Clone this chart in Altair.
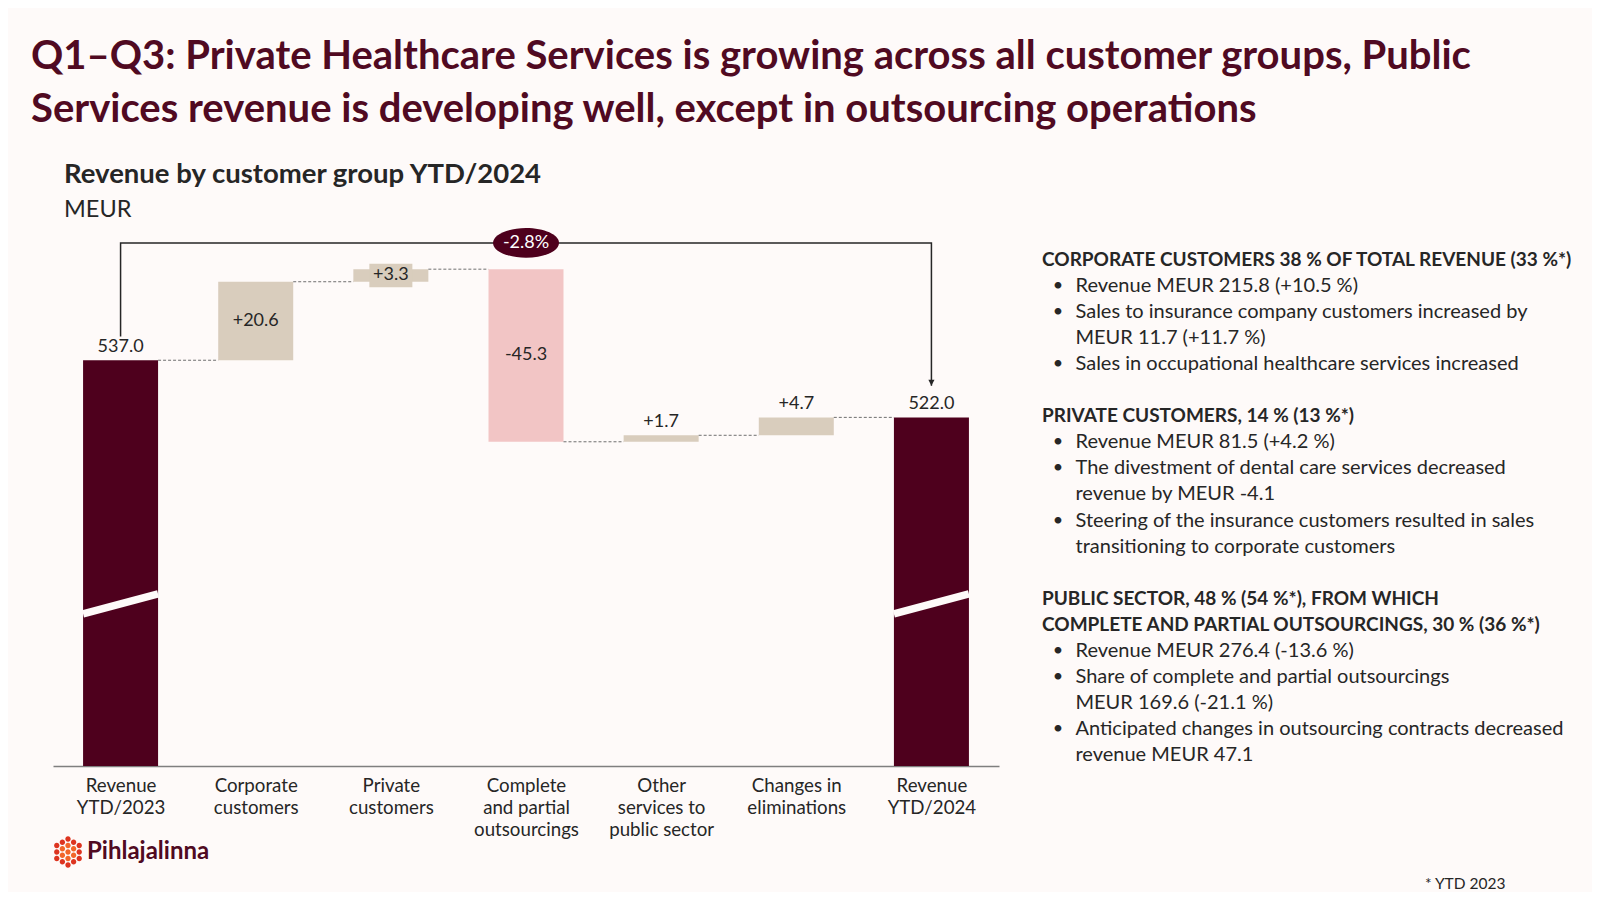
import altair as alt
import pandas as pd
import math

# ---------------- data ----------------
categories = ["Revenue|YTD/2023", "Corporate|customers", "Private|customers",
              "Complete|and partial|outsourcings", "Other|services to|public sector",
              "Changes in|eliminations", "Revenue|YTD/2024"]
values = [537.0, 20.6, 3.3, -45.3, 1.7, 4.7, 522.0]
kinds = ["total", "delta", "delta", "delta", "delta", "delta", "total"]
total_change = "-2.8%"

title_lines = ["Q1\u2013Q3: Private Healthcare Services is growing across all customer groups, Public",
               "Services revenue is developing well, except in outsourcing operations"]
subtitle = "Revenue by customer group YTD/2024"
unit_label = "MEUR"

sec1_head = ["CORPORATE CUSTOMERS 38 % OF TOTAL REVENUE (33 %*)"]
sec1_bullets = [["Revenue MEUR 215.8 (+10.5 %)"],
                ["Sales to insurance company customers increased by", "MEUR 11.7 (+11.7 %)"],
                ["Sales in occupational healthcare services increased"]]
sec2_head = ["PRIVATE CUSTOMERS, 14 % (13 %*)"]
sec2_bullets = [["Revenue MEUR 81.5 (+4.2 %)"],
                ["The divestment of dental care services decreased", "revenue by MEUR -4.1"],
                ["Steering of the insurance customers resulted in sales", "transitioning to corporate customers"]]
sec3_head = ["PUBLIC SECTOR, 48 % (54 %*), FROM WHICH",
             "COMPLETE AND PARTIAL OUTSOURCINGS, 30 % (36 %*)"]
sec3_bullets = [["Revenue MEUR 276.4 (-13.6 %)"],
                ["Share of complete and partial outsourcings", "MEUR 169.6 (-21.1 %)"],
                ["Anticipated changes in outsourcing contracts decreased", "revenue MEUR 47.1"]]
footnote = "* YTD 2023"
logo_text = "Pihlajalinna"

# ---------------- style / layout ----------------
FONT = "Lato"
BG = "#FEFAF9"
MAROON = "#4E001D"
TITLE_C = "#500A22"
BEIGE = "#D9CDBD"
PINK = "#F2C5C5"
TXT = "#262626"
GRID_GRAY = "#7F7F7F"

PLOT_W, PLOT_H = 946, 570
PAD_L, PAD_T = 45, 188
CANVAS_W, CANVAS_H = 1584, 884
PX_PER_UNIT = 3.81
Y_MIN = 430.5                       # truncated (broken) axis base
Y_MAX = Y_MIN + PLOT_H / PX_PER_UNIT
HW = 0.2775                         # half bar width in category units
OX, OY = 8 + PAD_L, 8 + PAD_T       # plot origin in page pixels


def px(x):
    return x - OX


def py(y):
    return y - OY


# ---------------- derived waterfall table ----------------
rows = []
run = 0.0
for i, (c, v, k) in enumerate(zip(categories, values, kinds)):
    if k == "total":
        start, end = Y_MIN, v
        run = v
        lab = f"{v:.1f}"
        kind = "total"
    else:
        start, end = run, run + v
        run = run + v
        lab = f"{v:+.1f}"
        kind = "up" if v >= 0 else "down"
    rows.append(dict(idx=i, cat=c, start=start, end=end, value=v, kind=kind, label=lab,
                     x0=i - HW, x1=i + HW, top=max(start, end), mid=(start + end) / 2))
df = pd.DataFrame(rows)

bracket_level = df.loc[df.kind != "total", "top"].max() + 6.9
LABEL_ROOM = 8


def mode(r):
    if r.kind == "total":
        return "above"
    if abs(r.value) >= 10:
        return "inside"
    if r.top + LABEL_ROOM > bracket_level:
        return "boxed"
    return "above"


df["mode"] = df.apply(mode, axis=1)
df["ly"] = df.apply(lambda r: r.top if r["mode"] == "above" else r.mid, axis=1)

conn = pd.DataFrame([dict(x0=i + HW, x1=i + 1 - HW, y=df.end[i]) for i in range(len(df) - 1)])
brk = df[df.kind == "total"][["x0", "x1"]].copy()
brk["y0"] = Y_MIN + 39.9
brk["y1"] = Y_MIN + 45.2

first, last = df.iloc[0], df.iloc[-1]
bracket = pd.DataFrame([
    dict(o=0, x=first.idx, y=first.end + 6.2),
    dict(o=1, x=first.idx, y=bracket_level),
    dict(o=2, x=last.idx, y=bracket_level),
    dict(o=3, x=last.idx, y=last.end + 8.3),
])
arrow = bracket.iloc[[3]]
badge = pd.DataFrame([dict(x=(len(df) - 1) / 2, y=bracket_level, t=total_change)])

# ---------------- scales ----------------
xs = alt.Scale(domain=[-0.5, len(df) - 0.5], nice=False, zero=False)
ys = alt.Scale(domain=[Y_MIN, Y_MAX], nice=False, zero=False)
label_arr = "[" + ",".join("'" + c + "'" for c in categories) + "]"
xaxis = alt.Axis(values=list(range(len(df))), title=None, grid=False, ticks=False, tickSize=0,
                 domainColor=GRID_GRAY, domainWidth=1.5, labelFont=FONT, labelFontSize=18.7,
                 labelColor=TXT, labelPadding=10, labelLineHeight=22,
                 labelExpr=f"split({label_arr}[datum.value], '|')")

bars = alt.Chart(df).mark_rect().encode(
    x=alt.X("x0:Q", scale=xs, axis=xaxis), x2="x1:Q",
    y=alt.Y("start:Q", scale=ys, axis=None), y2="end:Q",
    color=alt.Color("kind:N", scale=alt.Scale(domain=["total", "up", "down"],
                                              range=[MAROON, BEIGE, PINK]), legend=None))

breaks = alt.Chart(brk).mark_rule(color=BG, strokeWidth=7.5).encode(
    x=alt.X("x0:Q", scale=xs), x2="x1:Q", y=alt.Y("y0:Q", scale=ys), y2="y1:Q")

connectors = alt.Chart(conn).mark_rule(color="#6F6F6F", strokeWidth=1, strokeDash=[3, 2]).encode(
    x=alt.X("x0:Q", scale=xs), x2="x1:Q", y=alt.Y("y:Q", scale=ys))

bracket_line = alt.Chart(bracket).mark_line(color=TXT, strokeWidth=1.5).encode(
    x=alt.X("x:Q", scale=xs), y=alt.Y("y:Q", scale=ys), order="o:Q")

arrow_head = alt.Chart(arrow).mark_point(
    shape="M0,0 L-0.5,-1 L0.5,-1 Z", size=150, filled=True, color=TXT, opacity=1).encode(
    x=alt.X("x:Q", scale=xs), y=alt.Y("y:Q", scale=ys))

ellipse = alt.Chart(badge).mark_point(
    shape="M-1,0 A1,0.45 0 1,1 1,0 A1,0.45 0 1,1 -1,0 Z", size=66 * 66, filled=True,
    color=MAROON, opacity=1).encode(x=alt.X("x:Q", scale=xs), y=alt.Y("y:Q", scale=ys))
badge_txt = alt.Chart(badge).mark_text(font=FONT, fontSize=18, color="white").encode(
    x=alt.X("x:Q", scale=xs), y=alt.Y("y:Q", scale=ys), text="t:N")

label_box = alt.Chart(df).transform_filter("datum.mode == 'boxed'").mark_point(
    shape="M-1,-0.55 L1,-0.55 L1,0.55 L-1,0.55 Z", size=43 * 43, filled=True,
    color=BEIGE, opacity=1).encode(x=alt.X("idx:Q", scale=xs), y=alt.Y("ly:Q", scale=ys))

labels_in = alt.Chart(df).transform_filter("datum.mode != 'above'").mark_text(
    font=FONT, fontSize=18, color=TXT, baseline="middle").encode(
    x=alt.X("idx:Q", scale=xs), y=alt.Y("ly:Q", scale=ys), text="label:N")
labels_above = alt.Chart(df).transform_filter("datum.mode == 'above'").mark_text(
    font=FONT, fontSize=18, color=TXT, baseline="middle", dy=-13).encode(
    x=alt.X("idx:Q", scale=xs), y=alt.Y("ly:Q", scale=ys), text="label:N")


def txt(s, x, y, size, weight="normal", color=TXT, align="left"):
    return alt.Chart(alt.Data(values=[{"t": s}])).mark_text(
        font=FONT, fontSize=size, fontWeight=weight, color=color, align=align,
        baseline="middle").encode(x=alt.value(px(x)), y=alt.value(py(y)), text="t:N")


ann = []
ann.append(txt(title_lines[0], 31, 57, 40, "bold", TITLE_C))
ann.append(txt(title_lines[1], 31, 110, 40, "bold", TITLE_C))
ann.append(txt(subtitle, 64, 175, 27.5, "bold", TXT))
ann.append(txt(unit_label, 64, 210, 23.5, "normal", TXT))

# right panel
LINE = 26.05
HEAD_X, BUL_X, BODY_X = 1042, 1058, 1075.5
yy = 260.0
for heads, bullets in [(sec1_head, sec1_bullets), (sec2_head, sec2_bullets), (sec3_head, sec3_bullets)]:
    for h in heads:
        ann.append(txt(h, HEAD_X, yy, 19, "bold"))
        yy += LINE
    for b in bullets:
        ann.append(txt("\u2022", BUL_X, yy, 18, "normal", align="center"))
        for ln in b:
            ann.append(txt(ln, BODY_X, yy, 20))
            yy += LINE
    yy += LINE

ann.append(txt(footnote, 1425, 884, 15.5))

# logo
inner, outer = [], []
sp, dr = 0.41, 0.17


def circ(cx, cy, r):
    return (f"M{cx - r:.3f},{cy:.3f} A{r},{r} 0 1,1 {cx + r:.3f},{cy:.3f} "
            f"A{r},{r} 0 1,1 {cx - r:.3f},{cy:.3f} Z ")


inner.append(circ(0, 0, dr))
for k in range(6):
    a = math.pi / 3 * k + math.pi / 6
    inner.append(circ(sp * math.cos(a), sp * math.sin(a), dr))
for k in range(12):
    a = math.pi / 6 * k + math.pi / 6
    rr = 2 * sp if k % 2 == 0 else 2 * sp * math.cos(math.pi / 6)
    outer.append(circ(rr * math.cos(a), rr * math.sin(a), dr))
logo_pt = alt.Data(values=[{"a": 1}])
logo_outer = alt.Chart(logo_pt).mark_point(shape="".join(outer), size=1000, filled=True,
                                           color="#DD3420", opacity=1).encode(
    x=alt.value(px(68)), y=alt.value(py(852)))
logo_inner = alt.Chart(logo_pt).mark_point(shape="".join(inner), size=1000, filled=True,
                                           color="#F2662A", opacity=1).encode(
    x=alt.value(px(68)), y=alt.value(py(852)))
ann += [logo_outer, logo_inner, txt(logo_text, 87, 852, 24, "bold", TITLE_C)]

chart = alt.layer(bars, breaks, connectors, bracket_line, arrow_head, ellipse, badge_txt,
                  label_box, labels_in, labels_above, *ann).properties(
    width=PLOT_W, height=PLOT_H,
    autosize=alt.AutoSizeParams(type="none"),
    padding={"left": PAD_L, "top": PAD_T, "right": CANVAS_W - PAD_L - PLOT_W,
             "bottom": CANVAS_H - PAD_T - PLOT_H},
    background=BG,
).configure_view(stroke=None)

chart.save("out.html", embed_options={"renderer": "svg", "actions": False})
